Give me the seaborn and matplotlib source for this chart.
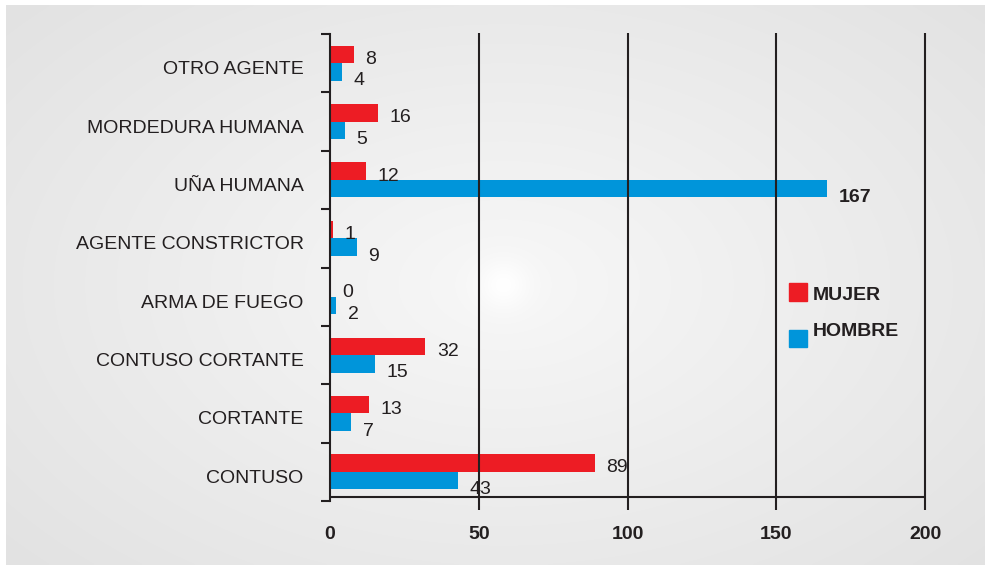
import numpy as np
import pandas as pd
import matplotlib
matplotlib.use("Agg")
import matplotlib.pyplot as plt
import matplotlib.transforms as mtransforms
import seaborn as sns
from matplotlib.patches import Rectangle

# data
categorias = ["OTRO AGENTE", "MORDEDURA HUMANA", "UÑA HUMANA", "AGENTE CONSTRICTOR",
              "ARMA DE FUEGO", "CONTUSO CORTANTE", "CORTANTE", "CONTUSO"]
mujer = [8, 16, 12, 1, 0, 32, 13, 89]
hombre = [4, 5, 167, 9, 2, 15, 7, 43]
series = ["MUJER", "HOMBRE"]
colores = ["#ED1C24", "#0095DA"]
xticks = [0, 50, 100, 150, 200]

TXT = "#231f20"
W, H = 988, 566

df = pd.DataFrame({
    "tipo": categorias * 2,
    "sexo": ["MUJER"] * len(categorias) + ["HOMBRE"] * len(categorias),
    "casos": mujer + hombre,
})

sns.set_theme(style="white")
plt.rcParams["font.family"] = ["Liberation Sans", "DejaVu Sans"]

fig = plt.figure(figsize=(W / 100, H / 100), dpi=100, facecolor="white")

# radial gray background panel
bg = fig.add_axes([6 / W, 1 / H, 978 / W, 560 / H])
bg.set_axis_off()
xx, yy = np.meshgrid(np.linspace(6, 984, 400), np.linspace(5, 565, 240))
r = np.sqrt(((xx - 503) / 480) ** 2 + ((yy - 285) / 300) ** 2)
val = 0.97 - 0.06 * r + 0.03 * np.exp(-(np.hypot(xx - 503, yy - 285) / 25) ** 2)
val = np.clip(val, 0, 1)
bg.imshow(np.dstack([val, val, val]), aspect="auto", extent=[0, 1, 0, 1], interpolation="bilinear")

ax = fig.add_axes([330 / W, (H - 501) / H, 595 / W, 467 / H])
ax.set_facecolor("none")
sns.barplot(data=df, x="casos", y="tipo", hue="sexo", orient="h",
            hue_order=series, palette=colores, order=categorias,
            width=0.6, saturation=1, linewidth=0, legend=False, ax=ax)

ax.set_xlim(0, 200)
ax.set_ylim(7.5, -0.5)
ax.set_xlabel("")
ax.set_ylabel("")

for s in ["top", "right", "bottom"]:
    ax.spines[s].set_visible(False)
ax.spines["left"].set_color(TXT)
ax.spines["left"].set_linewidth(1.5)

# axis line slightly above the bottom boundary, gridlines running past it
ax.plot([0, 200], [7.43, 7.43], color=TXT, lw=1.5, clip_on=False, zorder=3)
ax.vlines(xticks[1:], -0.52, 7.65, color=TXT, lw=1.5, clip_on=False, zorder=3)

ax.set_xticks(xticks)
ax.set_xticklabels([str(t) for t in xticks], fontsize=14, fontweight="bold", color=TXT)
ax.tick_params(axis="x", length=0, pad=18)

ax.set_yticks(range(len(categorias)))
ax.set_yticklabels(categorias, fontsize=14, color=TXT)
ax.set_yticks(np.arange(-0.5, len(categorias), 1), minor=True)
ax.tick_params(axis="y", which="major", length=0, pad=19)
ax.tick_params(axis="y", which="minor", length=6.5, width=1.5, color=TXT, left=True)

# category labels sit a little below the bar groups
shift = mtransforms.ScaledTranslation(0, -4.5 / 100, fig.dpi_scale_trans)
for lab in ax.get_yticklabels():
    lab.set_transform(lab.get_transform() + shift)

# value labels
for cont, dy in zip(ax.containers, [-3.5, -6.5]):
    for bar in cont:
        v = bar.get_width()
        yc = bar.get_y() + bar.get_height() / 2
        ax.annotate(f"{v:.0f}", (v, yc), xytext=(8.5, dy), textcoords="offset points",
                    ha="left", va="center", fontsize=14, color=TXT,
                    fontweight="bold" if v > 150 else "normal")

# legend
fig.patches.append(Rectangle((789 / W, (H - 300.5) / H), 17.5 / W, 17.5 / H,
                             transform=fig.transFigure, color=colores[0]))
fig.patches.append(Rectangle((789 / W, (H - 347) / H), 17.5 / W, 17.5 / H,
                             transform=fig.transFigure, color=colores[1]))
fig.text(813 / W, (H - 295) / H, series[0], fontsize=14, fontweight="bold",
         color=TXT, va="center", ha="left")
fig.text(813 / W, (H - 332) / H, series[1], fontsize=14, fontweight="bold",
         color=TXT, va="center", ha="left")

fig.savefig("out.png", dpi=100, facecolor="white")
